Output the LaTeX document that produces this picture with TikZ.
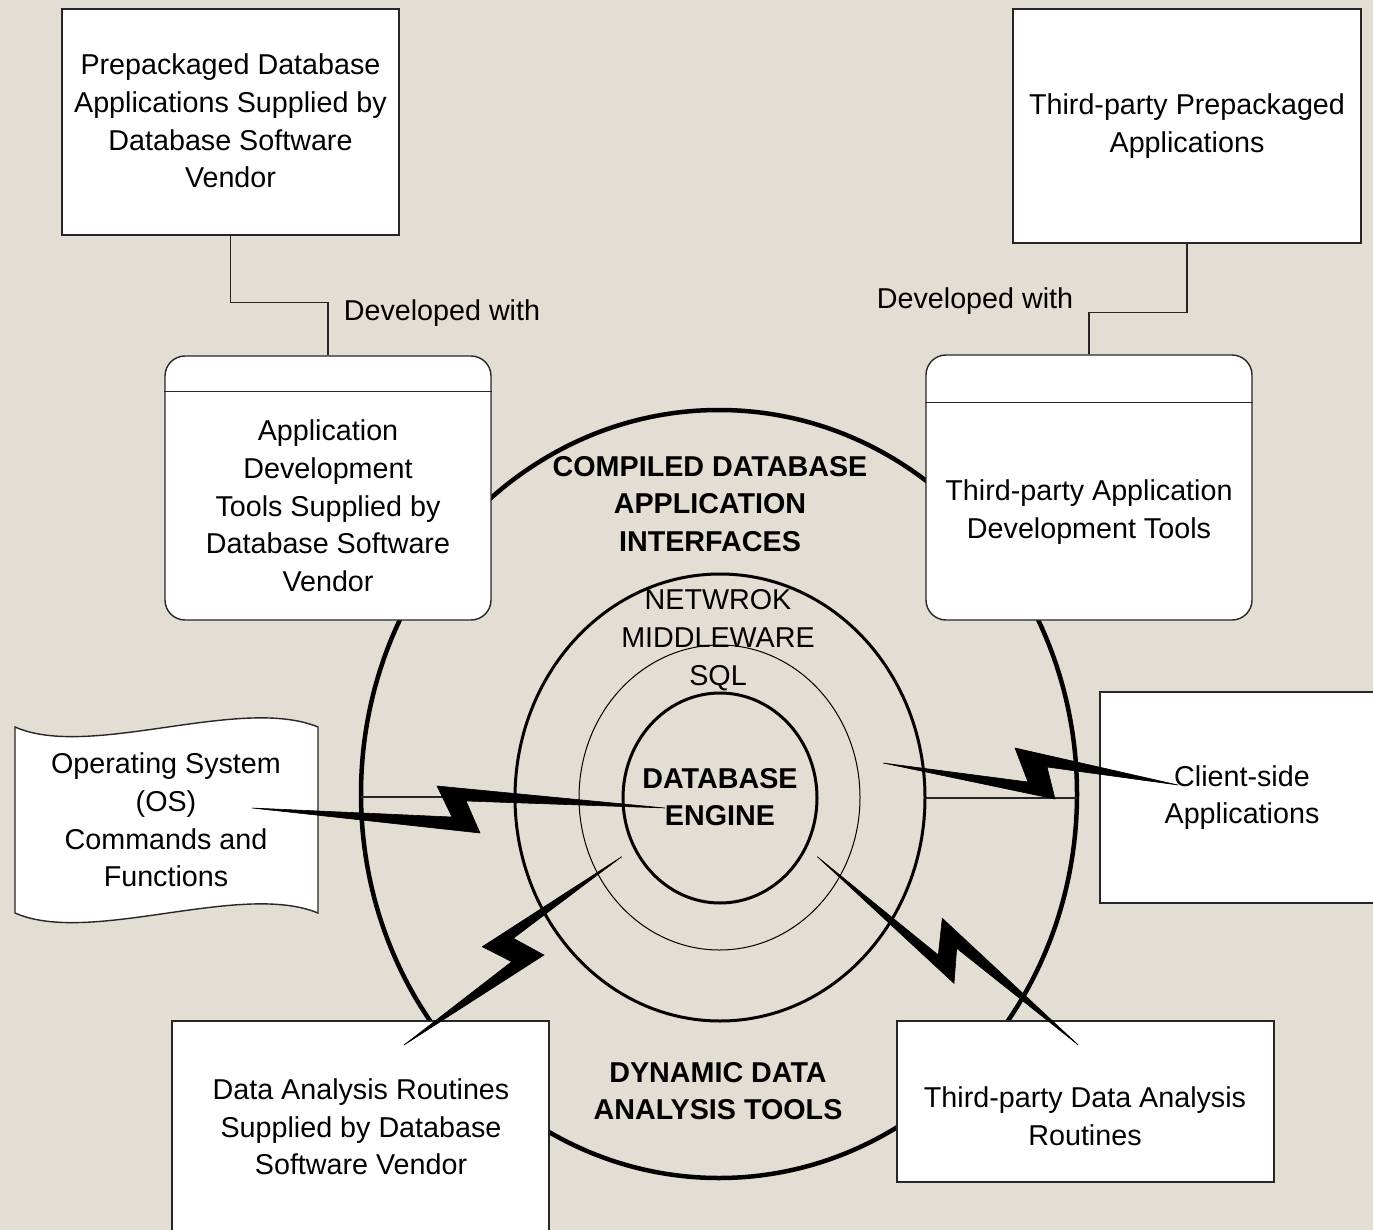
\documentclass[tikz,border=0pt]{standalone}
\usepackage{fontspec}
\setmainfont{Liberation Sans}
\definecolor{bg}{RGB}{227,222,211}
\tikzset{
  box/.style={draw=black!85, line width=1.4pt, fill=white, inner sep=0pt},
  rbox/.style={box, rounded corners=20pt},
  txt/.style={align=center, inner sep=0pt, font=\fontsize{28.7pt}{37.7pt}\selectfont},
  boldtxt/.style={txt, font=\fontsize{28.7pt}{37.7pt}\selectfont\bfseries},
  bolt/.style={fill=black, draw=black, line width=0.6pt, line join=miter},
  link/.style={draw=black!85, line width=1.4pt},
}
\begin{document}
\begin{tikzpicture}[x=1pt,y=-1pt]
\useasboundingbox (0,0) rectangle (1373,1230);
\clip (0,0) rectangle (1373,1230);
\fill[bg] (0,0) rectangle (1373,1230);

% concentric rings
\draw[line width=4.5pt] (719,794) ellipse [x radius=358pt, y radius=384pt];
\draw[line width=3pt] (720,797.5) ellipse [x radius=205pt, y radius=223.5pt];
\draw[line width=1pt] (719.5,797.5) ellipse [x radius=140.5pt, y radius=152.5pt];
\draw[line width=3pt] (720,798) ellipse [x radius=97pt, y radius=105pt];

% short rules between the rings
\coordinate (lrA) at (361,797);
\coordinate (lrB) at (446,797);
\coordinate (rrA) at (926,798);
\coordinate (rrB) at (1077,798);
\draw[link] (lrA) -- (lrB);
\draw[link] (rrA) -- (rrB);

% boxes
\node[box, minimum width=337pt, minimum height=226pt] (pdb) at (230.5,122) {};
\node[box, minimum width=348pt, minimum height=234pt] (tpa) at (1187,126) {};
\node[rbox, minimum width=326pt, minimum height=264pt] (adt) at (328,488) {};
\draw[link] ([yshift=-36pt]adt.north west) -- ([yshift=-36pt]adt.north east);
\node[rbox, minimum width=326pt, minimum height=265pt] (tad) at (1089,487.5) {};
\draw[link] ([yshift=-48pt]tad.north west) -- ([yshift=-48pt]tad.north east);
\node[box, minimum width=284pt, minimum height=211pt] (client) at (1242,797.5) {};
\node[box, minimum width=377pt, minimum height=211pt] (dar) at (360.5,1126.5) {};
\node[box, minimum width=377pt, minimum height=161pt] (tdar) at (1085.5,1101.5) {};

% operating system (punched tape shape)
\path[box] (15,727) .. controls (90,760) and (240,695) .. (318,727)
  -- (318,913) .. controls (240,881) and (90,946) .. (15,913) -- cycle;

% development links
\draw[link] (pdb.south) -- ++(0,67) -| (adt.north);
\draw[link] (tpa.south) -- ++(0,69) -| (tad.north);

% lightning bolts
\coordinate (osTip) at (252,808);
\coordinate (engTip) at (665,808);
\fill[bolt] (osTip) -- (452,817) -- (437,786) -- (engTip) -- (466,801) -- (480,833) -- cycle;
\coordinate (mwTip) at (883,763);
\coordinate (clTip) at (1178,785);
\fill[bolt] (mwTip) -- (1028,782) -- (1015,748) -- (clTip) -- (1047,767) -- (1055,799) -- cycle;
\coordinate (sqlTipL) at (621.7,856.7);
\coordinate (darTip) at (404,1045);
\fill[bolt] (sqlTipL) -- (513.3,938.3) -- (544,955) -- (darTip) -- (511.7,961.7) -- (482.3,946.7) -- cycle;
\coordinate (sqlTipR) at (817.3,856.7);
\coordinate (tdarTip) at (1078.3,1045);
\fill[bolt] (sqlTipR) -- (938.3,955) -- (942.3,918.3) -- (tdarTip) -- (956.7,948.3) -- (954,983.3) -- cycle;

% labels
\node[txt] (pdbText) at (230.5,121) {Prepackaged Database\\Applications Supplied by\\Database Software\\Vendor};
\node[txt] (tpaText) at (1187,126) {Third-party Prepackaged\\Applications};
\node[txt] (adtText) at (328,506) {Application\\Development\\Tools Supplied by\\Database Software\\Vendor};
\node[txt] (tadText) at (1089,512) {Third-party Application\\Development Tools};
\node[txt] (osText) at (166,820) {Operating System\\(OS)\\Commands and\\Functions};
\node[txt] (clientText) at (1242,797.5) {Client-side\\Applications};
\node[txt] (darText) at (361,1127) {Data Analysis Routines\\Supplied by Database\\Software Vendor};
\node[txt] (tdarText) at (1085,1116) {Third-party Data Analysis\\Routines};
\node[txt] (dev1) at (442,313) {Developed with};
\node[txt] (dev2) at (975,301) {Developed with};
\node[boldtxt] (cdai) at (710,504) {COMPILED DATABASE\\APPLICATION\\INTERFACES};
\node[txt] (mw) at (718,640) {NETWROK\\MIDDLEWARE\\SQL};
\node[boldtxt] (engine) at (720,797) {DATABASE\\ENGINE};
\node[boldtxt] (ddat) at (718,1091) {DYNAMIC DATA\\ANALYSIS TOOLS};
\end{tikzpicture}
\end{document}
